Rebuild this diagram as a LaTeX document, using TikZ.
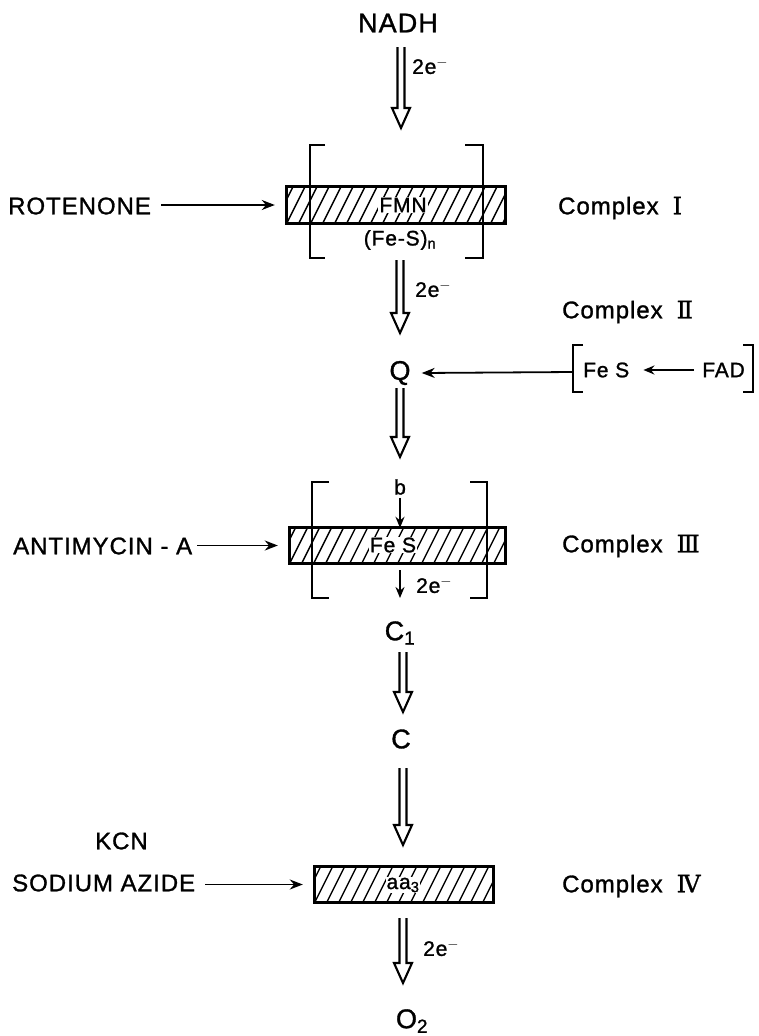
\documentclass[tikz,border=0pt]{standalone}
\usepackage{fontspec}
\setmainfont{Liberation Sans}[LetterSpace=4,FakeBold=1.2]
\newfontfamily\romn{DejaVu Serif}[FakeBold=1]
\usetikzlibrary{calc,arrows.meta}
\newcommand\darrow[2]{%
  \draw[dbl] ($(#1)+(-3.5,0)$) -- ($(#2)+(-3.5,-20)$) -- ($(#2)+(-9,-20)$) -- (#2)
     -- ($(#2)+(9,-20)$) -- ($(#2)+(3.5,-20)$) -- ($(#1)+(3.5,0)$);}
\newcommand\hatchit[1]{%
  \begin{scope}
    \clip (#1.south west) rectangle (#1.north east);
    \foreach \i in {-3,...,20} \draw[hatch] ($(#1.south west)+(\i*12,0)$) -- ++(18,-36);
  \end{scope}
  \draw[boxline] (#1.south west) rectangle (#1.north east);}
\begin{document}
\begin{tikzpicture}[x=1pt,y=-1pt,
  big/.style={font=\fontsize{27}{30}\selectfont, inner sep=0pt},
  lbl/.style={font=\fontsize{24}{28}\selectfont, inner sep=0pt},
  sml/.style={font=\fontsize{21}{24}\selectfont, inner sep=0pt},
  inbox/.style={font=\fontsize{21}{24}\selectfont, inner sep=1pt, fill=white},
  cbox/.style={inner sep=0pt},
  hatch/.style={line width=1.4pt},
  boxline/.style={line width=2.8pt},
  dbl/.style={line width=2.1pt, line join=miter},
  brk/.style={line width=2pt},
  arr/.style={line width=1.8pt, -{Stealth[length=13pt,width=10pt]}},
  sarr/.style={line width=1.8pt, -{Stealth[length=11pt,width=9pt]}}]
\useasboundingbox (0,0) rectangle (759,1036);

% ---- nodes along the chain
\node[big] (nadh) at (398,23) {NADH};
\node[big] (q) at (400,373) {Q};
\node[big] (c1) at (400,633) {C\textsubscript{1}};
\node[big] (c) at (401,739) {C};
\node[big] (o2) at (412,1021) {O\textsubscript{2}};

% ---- hatched boxes
\node[cbox, minimum width=218pt, minimum height=36pt] (b1) at (396,205) {};
\node[cbox, minimum width=215pt, minimum height=35pt] (b3) at (397.5,545.5) {};
\node[cbox, minimum width=178pt, minimum height=35pt] (b4) at (404,884.5) {};
\hatchit{b1}
\hatchit{b3}
\hatchit{b4}
\node[inbox] (fmn) at (403,205) {FMN};
\node[inbox] (fes3) at (393,545) {Fe S};
\node[inbox] (aa3) at (403,885) {aa\textsubscript{3}};
\node[sml] (fesn) at (400,240) {(Fe-S)\textsubscript{n}};
\node[sml] (b) at (400,487) {b};

% ---- brackets
\draw[brk] (325,145) -- (310,145) -- (310,258) -- (325,258);
\draw[brk] (465,145) -- (483,145) -- (483,258) -- (465,258);
\draw[brk] (329,482) -- (312,482) -- (312,598) -- (329,598);
\draw[brk] (470,482) -- (487,482) -- (487,598) -- (470,598);

% ---- double arrows
\coordinate (a1s) at (401,47);  \coordinate (a1e) at (401,128);
\coordinate (a2s) at (400,260); \coordinate (a2e) at (400,333);
\coordinate (a3s) at (400,388); \coordinate (a3e) at (400,457);
\coordinate (a4s) at (403,652); \coordinate (a4e) at (403,712);
\coordinate (a5s) at (403,768); \coordinate (a5e) at (403,845);
\coordinate (a6s) at (403,918); \coordinate (a6e) at (403,983);
\darrow{a1s}{a1e}
\darrow{a2s}{a2e}
\darrow{a3s}{a3e}
\darrow{a4s}{a4e}
\darrow{a5s}{a5e}
\darrow{a6s}{a6e}
\node[sml, anchor=west] (e1) at (412,66) {2e$^{-}$};
\node[sml, anchor=west] (e2) at (415,289) {2e$^{-}$};
\node[sml, anchor=west] (e3) at (416,585) {2e$^{-}$};
\node[sml, anchor=west] (e4) at (423,948) {2e$^{-}$};

% ---- small arrows inside complex III
\coordinate (s2e) at (400,598);
\draw[sarr] ([yshift=-3pt]b.south) -- (b.south |- b3.north);
\draw[sarr] ([yshift=-7pt]b3.south -| b.south) -- (s2e);

% ---- inhibitors
\node[lbl, anchor=west] (rot) at (8,206) {ROTENONE};
\node[lbl, anchor=west] (ant) at (13,546) {ANTIMYCIN - A};
\node[lbl, anchor=west] (kcn) at (95,841) {KCN};
\node[lbl, anchor=west] (azi) at (12,883) {SODIUM AZIDE};
\draw[arr] ([xshift=10pt]rot.east |- b1.west) -- ([xshift=-12pt]b1.west);
\draw[arr] ([xshift=5pt]ant.east |- b3.west) -- ([xshift=-12pt]b3.west);
\draw[arr] ([xshift=10pt]azi.east |- b4.west) -- ([xshift=-12pt]b4.west);

% ---- complex labels
\node[lbl, anchor=west] (cx1) at (558,208) {Complex\hspace{14pt}{\romn Ⅰ}};
\node[lbl, anchor=west] (cx2) at (562,312) {Complex\hspace{14pt}{\romn Ⅱ}};
\node[lbl, anchor=west] (cx3) at (562,546) {Complex\hspace{14pt}{\romn Ⅲ}};
\node[lbl, anchor=west] (cx4) at (562,886) {Complex\hspace{14pt}{\romn Ⅳ}};

% ---- complex II contents
\node[sml, anchor=west] (fes2) at (583,370) {Fe S};
\node[sml, anchor=east] (fad) at (745,370) {FAD};
\draw[brk] (583,345) -- (573,345) -- (573,392) -- (583,392);
\draw[brk] (743,345) -- (753,345) -- (753,392) -- (743,392);
\coordinate (c2l) at (573,372);
\draw[sarr] ([xshift=-8pt]fad.west) -- ([xshift=14pt]fes2.east);
\draw[arr] (c2l) -- ([xshift=11pt]q.east);
\end{tikzpicture}
\end{document}
